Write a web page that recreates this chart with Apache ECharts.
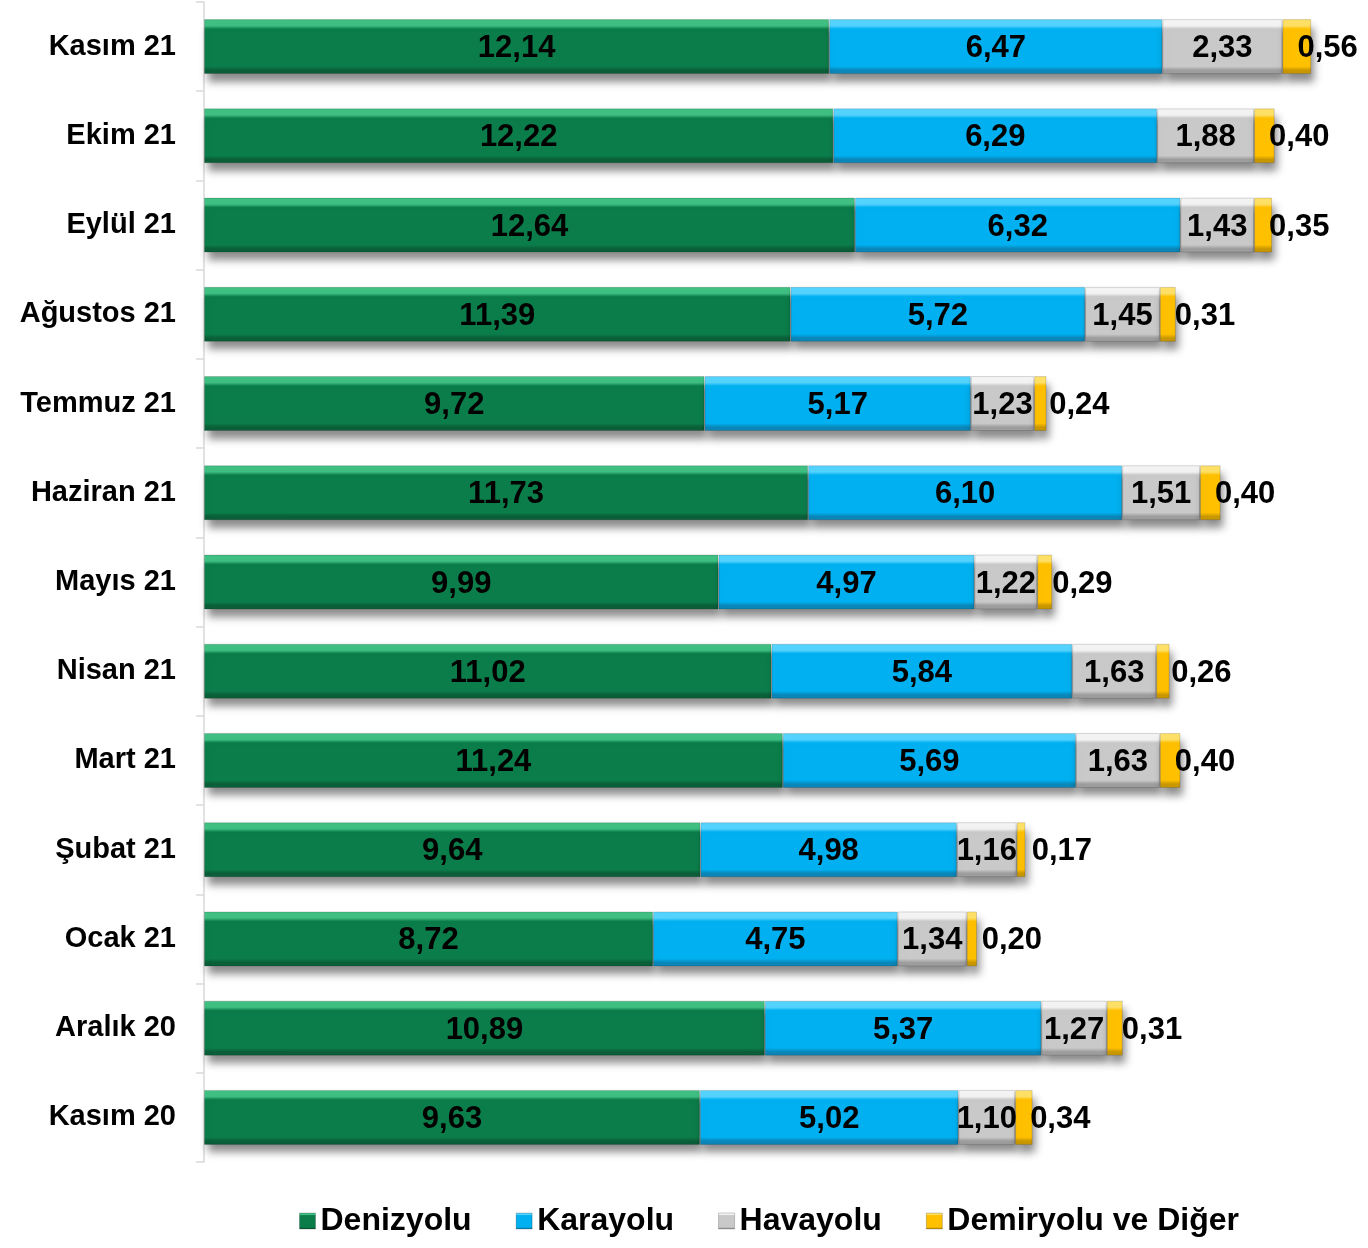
<!DOCTYPE html>
<html>
<head>
<meta charset="utf-8">
<script src="https://cdn.jsdelivr.net/npm/echarts@6/dist/echarts.min.js"></script>
<style>html,body{margin:0;padding:0;background:#fff}#c{width:1368px;height:1248px}</style>
</head>
<body>
<div id="c"></div>
<script>
const categories = ['Kasım 21','Ekim 21','Eylül 21','Ağustos 21','Temmuz 21','Haziran 21','Mayıs 21','Nisan 21','Mart 21','Şubat 21','Ocak 21','Aralık 20','Kasım 20'];
const denizyolu = [12.14,12.22,12.64,11.39,9.72,11.73,9.99,11.02,11.24,9.64,8.72,10.89,9.63];
const karayolu = [6.47,6.29,6.32,5.72,5.17,6.10,4.97,5.84,5.69,4.98,4.75,5.37,5.02];
const havayolu = [2.33,1.88,1.43,1.45,1.23,1.51,1.22,1.63,1.63,1.16,1.34,1.27,1.10];
const demiryolu = [0.56,0.40,0.35,0.31,0.24,0.40,0.29,0.26,0.40,0.17,0.20,0.31,0.34];
const seriesNames = ['Denizyolu','Karayolu','Havayolu','Demiryolu ve Diğer'];

const FONT = '"Liberation Sans", Arial, sans-serif';
function grad(light, base, dark){
  return new echarts.graphic.LinearGradient(0,0,0,1,[
    {offset:0, color:light},{offset:0.12, color:light},{offset:0.18, color:base},
    {offset:0.86, color:base},{offset:0.93, color:dark},{offset:1, color:dark}
  ]);
}
const styles = [
  grad('#3fbf82','#0b7d4a','#0a5e38'),
  grad('#55d3ff','#00b0f0','#0a86b8'),
  grad('#f3f3f3','#c9c9c9','#9d9d9d'),
  grad('#ffe066','#ffc000','#c99700')
];
const fmt = p => p.value.toFixed(2).replace('.', ',');
const datasets = [denizyolu, karayolu, havayolu, demiryolu];
const series = datasets.map((d,i)=>({
  name: seriesNames[i],
  type: 'bar',
  stack: 'total',
  barWidth: 55,
  data: d,
  itemStyle: {
    color: styles[i],
    borderColor: 'rgba(0,0,0,0.15)', borderWidth: 1,
    shadowColor: 'rgba(0,0,0,0.45)', shadowBlur: 8, shadowOffsetX: 3, shadowOffsetY: 8
  },
  label: {
    show: true,
    position: i === 3 ? 'insideLeft' : 'inside',
    distance: 15,
    offset: [0, 2],
    formatter: fmt,
    color: '#000', fontWeight: 'bold', fontSize: 31, fontFamily: FONT
  }
}));

const chart = echarts.init(document.getElementById('c'));
chart.setOption({
  animation: false,
  grid: {left: 204, top: 2, width: 1133, height: 1160},
  xAxis: {type: 'value', min: 0, max: 22, show: false},
  yAxis: {
    type: 'category', data: categories, inverse: true,
    axisLine: {show: true, lineStyle: {color: '#d9d9d9', width: 1.5}},
    axisTick: {show: true, length: 8, lineStyle: {color: '#d9d9d9', width: 1.5}},
    axisLabel: {color: '#000', fontWeight: 'bold', fontSize: 29, fontFamily: FONT, margin: 28}
  },
  legend: {
    left: 294, top: 1200,
    icon: 'rect',
    itemWidth: 16, itemHeight: 16, itemGap: 44,
    textStyle: {color: '#000', fontWeight: 'bold', fontSize: 32, fontFamily: FONT},
    data: seriesNames.map((n,i)=>({name:n, itemStyle:{color: styles[i], shadowBlur:0, shadowOffsetX:0, shadowOffsetY:0, borderColor:'rgba(0,0,0,0.2)', borderWidth:1}}))
  },
  series: series
});
</script>
</body>
</html>
